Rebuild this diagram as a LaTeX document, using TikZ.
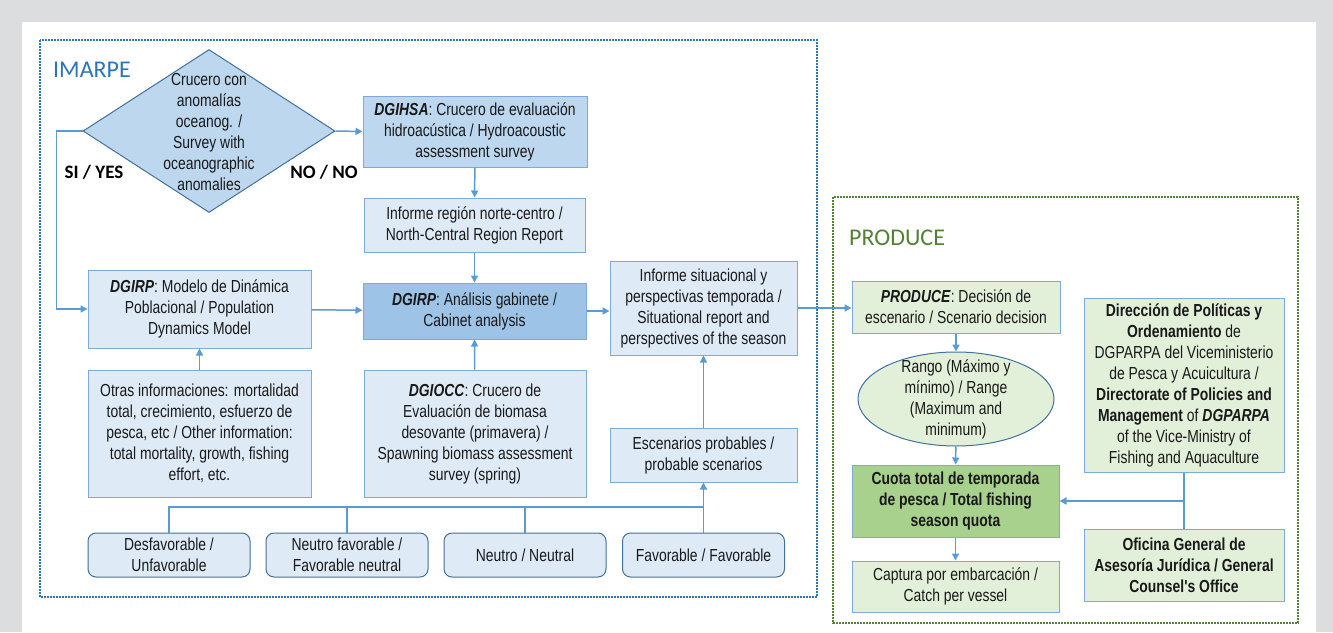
\documentclass[tikz,border=0pt]{standalone}
\usepackage{fontspec}
\setmainfont{Liberation Sans}[FakeStretch=0.8,Ligatures=TeXOff]
\newfontfamily\calibri{Carlito}
\usetikzlibrary{shapes.geometric,arrows.meta}
\definecolor{bgray}{RGB}{220,221,222}
\definecolor{lblue}{RGB}{222,235,247}
\definecolor{mblue}{RGB}{189,215,238}
\definecolor{dblue}{RGB}{157,195,230}
\definecolor{bxline}{RGB}{125,170,220}
\definecolor{lnblue}{RGB}{91,155,213}
\definecolor{edblue}{RGB}{65,113,156}
\definecolor{lgreen}{RGB}{226,240,217}
\definecolor{mgreen}{RGB}{169,209,142}
\definecolor{imblue}{RGB}{46,117,182}
\definecolor{prgreen}{RGB}{84,130,53}

\begin{document}
\begin{tikzpicture}[x=1pt,y=-1pt,
  txt/.style={align=center,inner sep=0pt,text=black!90,font=\fontsize{17.4}{21}\selectfont},
  box/.style={txt,draw=bxline,line width=1pt,fill=lblue},
  gbox/.style={box,fill=lgreen},
  rbox/.style={box,draw=edblue,rounded corners=8pt,minimum width=162,minimum height=44},
  sz/.style 2 args={minimum width=#1,minimum height=#2},
  dia/.style={diamond,draw=edblue,fill=mblue,line width=1pt,inner sep=0pt,minimum width=252,minimum height=163},
  ell/.style={ellipse,draw=edblue,fill=lgreen,line width=1pt,inner sep=0pt,minimum width=196,minimum height=94},
  frame/.style={line width=2pt,dash pattern=on 1.8pt off 1.2pt},
  title/.style={inner sep=0pt,font=\calibri\fontsize{24}{28}\selectfont},
  yn/.style={inner sep=0pt,font=\calibri\bfseries\fontsize{19}{22}\selectfont},
  con/.style={draw=lnblue,line width=1.5pt},
  arr/.style={con,-{Triangle[length=7pt,width=7pt]}}]
\useasboundingbox (0,0) rectangle (1333,632);
\fill[bgray] (0,0) rectangle (1333,632);
\fill[white] (22,22) rectangle (1316,632);
\draw[frame,imblue] (40,40) rectangle (817,597);
\draw[frame,prgreen] (833,197) rectangle (1298,623);
\node[title,text=imblue,anchor=west] (imarpe) at (53,70) {IMARPE};
\node[title,text=prgreen,anchor=west] (produce) at (849,238) {PRODUCE};

% IMARPE
\node[dia] (crucero) at (209,131) {};
\node[txt] (crucerotxt) at (209,132) {Crucero con\\anomalías\\oceanog. /\\Survey with\\oceanographic\\anomalies};
\node[yn] (si) at (94,172) {SI / YES};
\node[yn] (no) at (324,172) {NO / NO};
\node[box,fill=mblue,sz={224}{71}] (dgihsa) at (475,131.5) {\textbf{\textit{DGIHSA}}: Crucero de evaluación\\hidroacústica / Hydroacoustic\\assessment survey};
\node[box,sz={221}{54}] (region) at (474.5,225) {Informe región norte-centro /\\North-Central Region Report};
\node[box,fill=dblue,sz={223}{56}] (gabinete) at (474.5,311) {\textbf{\textit{DGIRP}}: Análisis gabinete /\\Cabinet analysis};
\node[box,sz={223}{78}] (modelo) at (199.5,309) {\textbf{\textit{DGIRP}}: Modelo de Dinámica\\Poblacional / Population\\Dynamics Model};
\node[box,sz={223}{127}] (otras) at (199.5,433.5) {Otras informaciones: mortalidad\\total, crecimiento, esfuerzo de\\pesca, etc / Other information:\\total mortality, growth, fishing\\effort, etc.};
\node[box,sz={222}{127}] (dgiocc) at (475,433.5) {\textbf{\textit{DGIOCC}}: Crucero de\\Evaluación de biomasa\\desovante (primavera) /\\Spawning biomass assessment\\survey (spring)};
\node[box,sz={187}{94}] (situacion) at (703.5,308) {Informe situacional y\\perspectivas temporada /\\Situational report and\\perspectives of the season};
\node[box,sz={187}{54}] (escenarios) at (703.5,455) {Escenarios probables /\\probable scenarios};
\node[rbox] (desfav) at (169,555) {Desfavorable /\\Unfavorable};
\node[rbox] (neufav) at (347,555) {Neutro favorable /\\Favorable neutral};
\node[rbox] (neutro) at (525,555) {Neutro / Neutral};
\node[rbox] (fav) at (703.5,555) {Favorable / Favorable};

% PRODUCE
\node[gbox,sz={208}{52}] (decision) at (956,307) {\textbf{\textit{PRODUCE}}: Decisión de\\escenario / Scenario decision};
\node[ell] (rango) at (956,399) {};
\node[txt] (rangotxt) at (956,399) {Rango (Máximo y\\mínimo) / Range\\(Maximum and\\minimum)};
\node[gbox,fill=mgreen,sz={207}{72}] (cuota) at (955.5,501) {\textbf{Cuota total de temporada}\\\textbf{de pesca / Total fishing}\\\textbf{season quota}};
\node[gbox,sz={207}{51}] (captura) at (955.5,586.5) {Captura por embarcación /\\Catch per vessel};
\node[gbox,sz={200}{174}] (direccion) at (1184,385) {\textbf{Dirección de Políticas y}\\\textbf{Ordenamiento} de\\DGPARPA del Viceministerio\\de Pesca y Acuicultura /\\\textbf{Directorate of Policies and}\\\textbf{Management} of \textbf{\textit{DGPARPA}}\\of the Vice-Ministry of\\Fishing and Aquaculture};
\node[gbox,sz={200}{72}] (oficina) at (1184,565) {\textbf{Oficina General de}\\\textbf{Asesoría Jurídica / General}\\\textbf{Counsel's Office}};

% connectors
\coordinate (bus) at (0,507);
\draw[arr] (crucero.west) -- ++(-26,0) |- (modelo.west);
\draw[arr] (crucero.east) -- (dgihsa.west);
\draw[arr] (dgihsa) -- (region);
\draw[arr] (region) -- (gabinete);
\draw[arr] (modelo) -- (gabinete);
\draw[arr] (otras) -- (modelo);
\draw[arr] (dgiocc) -- (gabinete);
\draw[arr] (gabinete.east) -- (gabinete.east -| situacion.west);
\draw[arr] (escenarios) -- (situacion);
\draw[con] (desfav.north) |- (fav.north |- bus);
\draw[con] (neufav.north) -- (neufav.north |- bus);
\draw[con] (neutro.north) -- (neutro.north |- bus);
\draw[arr] (fav) -- (escenarios);
\draw[arr] (situacion.east) -- (situacion.east -| decision.west);
\draw[arr] (decision) -- (rango);
\draw[arr] (rango) -- (cuota);
\draw[arr] (cuota) -- (captura);
\draw[con] (direccion) -- (oficina);
\draw[arr] (direccion.south |- cuota.east) -- (cuota.east);

\end{tikzpicture}
\end{document}
